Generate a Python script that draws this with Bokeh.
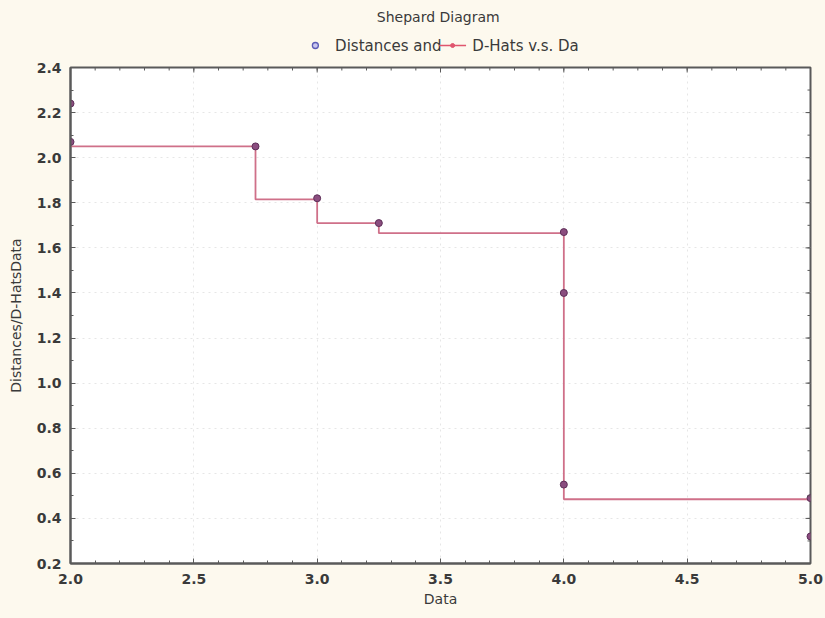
import math
from bokeh.plotting import figure
from bokeh.layouts import column
from bokeh.models import ColumnDataSource, FixedTicker, PrintfTickFormatter, Range1d
from bokeh.core.properties import value
from bokeh.embed import file_html
from bokeh.resources import INLINE

# Data: Distances (points) and D-Hats (step line) vs Data
data_x = [2.0, 2.0, 2.75, 3.0, 3.25, 4.0, 4.0, 4.0, 5.0, 5.0]
distances = [2.24, 2.07, 2.05, 1.82, 1.71, 1.67, 1.40, 0.55, 0.49, 0.32]
step_x = [2.0, 2.75, 3.0, 3.25, 4.0, 5.0]
dhats = [2.05, 1.815, 1.71, 1.665, 0.485, 0.485]

x_ticks = [2.0, 2.5, 3.0, 3.5, 4.0, 4.5, 5.0]
y_ticks = [0.2, 0.4, 0.6, 0.8, 1.0, 1.2, 1.4, 1.6, 1.8, 2.0, 2.2, 2.4]
x_minor = [round(2.0 + 0.1 * i, 2) for i in range(31)]
y_minor = [round(0.2 + 0.1 * i, 2) for i in range(23)]

title_text = "Shepard Diagram"
legend_labels = ["Distances and", "D-Hats v.s. Da"]

FONT = "DejaVu Sans"
TXT = "#3a3a3a"
BG = "#fdf9ee"
AX = "#5a5a5a"
PT_FILL = "#8b4d7f"
PT_LINE = "#5e2f58"
STEP_COL = "#cf7089"

# ---------- header strip: title and legend (pixel coordinates) ----------
TOP_H = 60
h = figure(width=825, height=TOP_H, output_backend="svg", toolbar_location=None,
           x_range=Range1d(0, 825), y_range=Range1d(0, TOP_H),
           min_border=0, min_border_left=0, min_border_right=0, min_border_top=0, min_border_bottom=0)
h.axis.visible = False
h.grid.visible = False
h.outline_line_color = None
h.background_fill_color = BG
h.border_fill_color = BG

h.text(x=[410], y=[TOP_H - 16], text=[title_text], text_font=value(FONT), text_font_size="14px",
       text_color=TXT, text_align="center", text_baseline="middle")
ly = TOP_H - 45
h.scatter(x=[273], y=[ly], size=6, fill_color="#c9c6ef", line_color="#5b5bb5", line_width=1.3)
h.text(x=[295], y=[ly], text=[legend_labels[0]], text_font=value(FONT), text_font_size="15px",
       text_color=TXT, text_align="left", text_baseline="middle")
h.line(x=[411, 441], y=[ly, ly], line_color="#e0566e", line_width=1.6)
h.scatter(x=[426], y=[ly], size=4, fill_color="#e0566e", line_color="#e0566e")
h.text(x=[448], y=[ly], text=[legend_labels[1]], text_font=value(FONT), text_font_size="15px",
       text_color=TXT, text_align="left", text_baseline="middle")

# ---------- main plot ----------
p = figure(width=825, height=618 - TOP_H, output_backend="svg", toolbar_location=None,
           x_range=Range1d(2.0, 5.0), y_range=Range1d(0.2, 2.4),
           min_border_left=70, min_border_right=15, min_border_bottom=55, min_border_top=7)
p.border_fill_color = BG
p.background_fill_color = "white"
p.outline_line_color = AX
p.outline_line_width = 2

src_pts = ColumnDataSource(dict(x=data_x, y=distances))
src_step = ColumnDataSource(dict(x=step_x, y=dhats))

p.xgrid.ticker = FixedTicker(ticks=x_ticks)
p.ygrid.ticker = FixedTicker(ticks=y_ticks)
p.grid.grid_line_color = "#e6e6e6"
p.grid.grid_line_dash = "dotted"
p.grid.grid_line_width = 1

p.step("x", "y", source=src_step, mode="after", line_color=STEP_COL, line_width=1.8)
p.scatter("x", "y", source=src_pts, size=7, fill_color=PT_FILL, line_color=PT_LINE, line_width=1)

# inward ticks on the right and top edges (dash markers, half clipped by the frame)
right_src = ColumnDataSource(dict(x=[5.0] * len(y_ticks), y=y_ticks))
right_min = ColumnDataSource(dict(x=[5.0] * len(y_minor), y=y_minor))
top_src = ColumnDataSource(dict(x=x_ticks, y=[2.4] * len(x_ticks)))
top_min = ColumnDataSource(dict(x=x_minor, y=[2.4] * len(x_minor)))
p.scatter("x", "y", source=right_src, marker="dash", size=10, line_color=AX, line_width=1)
p.scatter("x", "y", source=right_min, marker="dash", size=6, line_color=AX, line_width=1)
p.scatter("x", "y", source=top_src, marker="dash", size=10, angle=math.pi / 2, line_color=AX, line_width=1)
p.scatter("x", "y", source=top_min, marker="dash", size=6, angle=math.pi / 2, line_color=AX, line_width=1)

for ax in (p.xaxis[0], p.yaxis[0]):
    ax.major_tick_in = 5
    ax.major_tick_out = 0
    ax.minor_tick_in = 3
    ax.minor_tick_out = 0
    ax.axis_line_color = AX
    ax.axis_line_width = 2
    ax.major_tick_line_color = AX
    ax.minor_tick_line_color = AX
    ax.major_label_text_font = FONT
    ax.major_label_text_font_size = "14px"
    ax.major_label_text_color = TXT
    ax.major_label_text_font_style = "bold"
    ax.axis_label_text_font = FONT
    ax.axis_label_text_font_size = "14px"
    ax.axis_label_text_font_style = "normal"
    ax.axis_label_text_color = TXT

p.xaxis[0].ticker = FixedTicker(ticks=x_ticks, minor_ticks=x_minor)
p.yaxis[0].ticker = FixedTicker(ticks=y_ticks, minor_ticks=y_minor)
p.xaxis[0].formatter = PrintfTickFormatter(format="%.1f")
p.yaxis[0].formatter = PrintfTickFormatter(format="%.1f")
p.xaxis[0].axis_label = "Data"
p.yaxis[0].axis_label = "Distances/D-HatsData"
p.xaxis[0].axis_label_standoff = 4
p.yaxis[0].axis_label_standoff = 10
p.xaxis[0].major_label_standoff = 10
p.yaxis[0].major_label_standoff = 9

layout = column(h, p, spacing=0)
layout.styles = {"background-color": BG}
open("out.html", "w").write(file_html(layout, INLINE))
